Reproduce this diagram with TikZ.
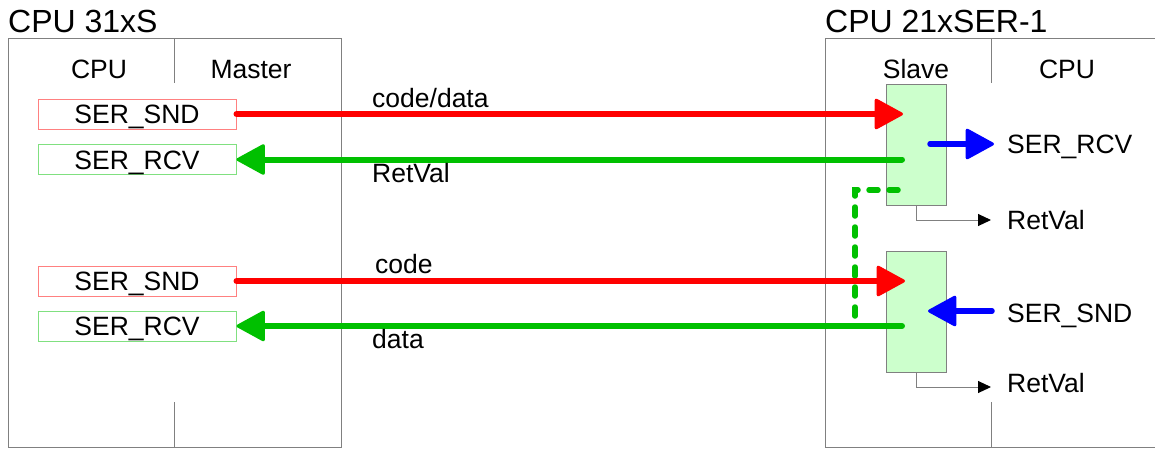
\documentclass[tikz,border=0pt]{standalone}
\usepackage{fontspec}
\setmainfont{Liberation Sans}
\usetikzlibrary{arrows.meta}
\definecolor{grn}{RGB}{0,192,0}
\definecolor{slavefill}{RGB}{204,255,204}
\definecolor{frameg}{RGB}{128,128,128}
\definecolor{sndborder}{RGB}{255,128,128}
\definecolor{rcvborder}{RGB}{128,224,128}
\begin{document}
\begin{tikzpicture}[x=1pt,y=-1pt,
  frame/.style={draw=frameg, line width=1pt},
  txt/.style={font=\fontsize{26.5}{30}\selectfont, inner sep=0pt},
  lbl/.style={txt, anchor=base west},
  head/.style={txt, anchor=base},
  title/.style={font=\fontsize{32}{36}\selectfont, inner sep=0pt, anchor=base west},
  fbox/.style={txt, line width=1pt, minimum width=198pt, minimum height=30pt, text height=19pt, text depth=0pt},
  sndbox/.style={fbox, draw=sndborder},
  rcvbox/.style={fbox, draw=rcvborder},
  slavebox/.style={draw=frameg, line width=1pt, fill=slavefill, minimum width=60pt, minimum height=121pt, inner sep=0pt},
  bigarrow/.style={line width=6pt, line cap=round, -{Triangle[length=30pt,width=32pt,line width=3pt,round]}},
  redarrow/.style={bigarrow, draw=red, fill=red},
  grnarrow/.style={bigarrow, draw=grn, fill=grn},
  bluearrow/.style={bigarrow, line width=5.5pt, draw=blue},
  retline/.style={draw=frameg, line width=1pt, -{Triangle[length=13pt,width=12pt,fill=black,color=black]}},
  dashline/.style={draw=grn, line width=5.5pt, line cap=round, dash pattern=on 9pt off 11pt}
]
\useasboundingbox (0,0) rectangle (1155,448);

% frames
\draw[frame] (8,38) rectangle (341,447);
\draw[frame] (174,38) -- (174,83);
\draw[frame] (174,402) -- (174,447);
\draw[frame] (1155,38) -- (825,38) -- (825,447) -- (1155,447);
\draw[frame] (991,38) -- (991,83);
\draw[frame] (991,402) -- (991,447);

% titles and headers
\node[title] (t1) at (8,32) {CPU 31xS};
\node[title] (t2) at (825,32) {CPU 21xSER-1};
\node[head] (h1) at (99,78) {CPU};
\node[head] (h2) at (251,78) {Master};
\node[head] (h3) at (916,78) {Slave};
\node[head] (h4) at (1067,78) {CPU};

% master boxes
\node[sndbox] (snd1) at (137,114) {SER\_SND};
\node[rcvbox] (rcv1) at (137,159.5) {SER\_RCV};
\node[sndbox] (snd2) at (137,281) {SER\_SND};
\node[rcvbox] (rcv2) at (137,326) {SER\_RCV};

% slave boxes
\node[slavebox] (s1) at (916,144.5) {};
\node[slavebox] (s2) at (916,311.5) {};

% connector points
\coordinate (r1) at (903,114);
\coordinate (g1) at (902,159.5);
\coordinate (r2) at (905,281);
\coordinate (g2) at (902,326);
\coordinate (b1a) at (930,144);
\coordinate (b1b) at (994,144);
\coordinate (b2a) at (992,311);
\coordinate (b2b) at (928,311);
\coordinate (rv1) at (991,220);
\coordinate (rv2) at (991,387);
\coordinate (d1) at (898,190);
\coordinate (d2) at (855,326);

% dashed link
\draw[dashline] (d1) -| (d2);

% arrows
\draw[redarrow] (snd1.east) -- (r1);
\draw[grnarrow] (g1) -- (rcv1.east);
\draw[redarrow] (snd2.east) -- (r2);
\draw[grnarrow] (g2) -- (rcv2.east);
\draw[bluearrow] (b1a) -- (b1b);
\draw[bluearrow] (b2a) -- (b2b);
\draw[retline] (s1.south) |- (rv1);
\draw[retline] (s2.south) |- (rv2);

% labels
\node[lbl] (l1) at (372,107) {code/data};
\node[lbl] (l2) at (372,182) {RetVal};
\node[lbl] (l3) at (375,273) {code};
\node[lbl] (l4) at (372,348) {data};
\node[lbl] (o1) at (1007,153) {SER\_RCV};
\node[lbl] (o2) at (1007,229) {RetVal};
\node[lbl] (o3) at (1007,322) {SER\_SND};
\node[lbl] (o4) at (1007,392) {RetVal};
\end{tikzpicture}
\end{document}
